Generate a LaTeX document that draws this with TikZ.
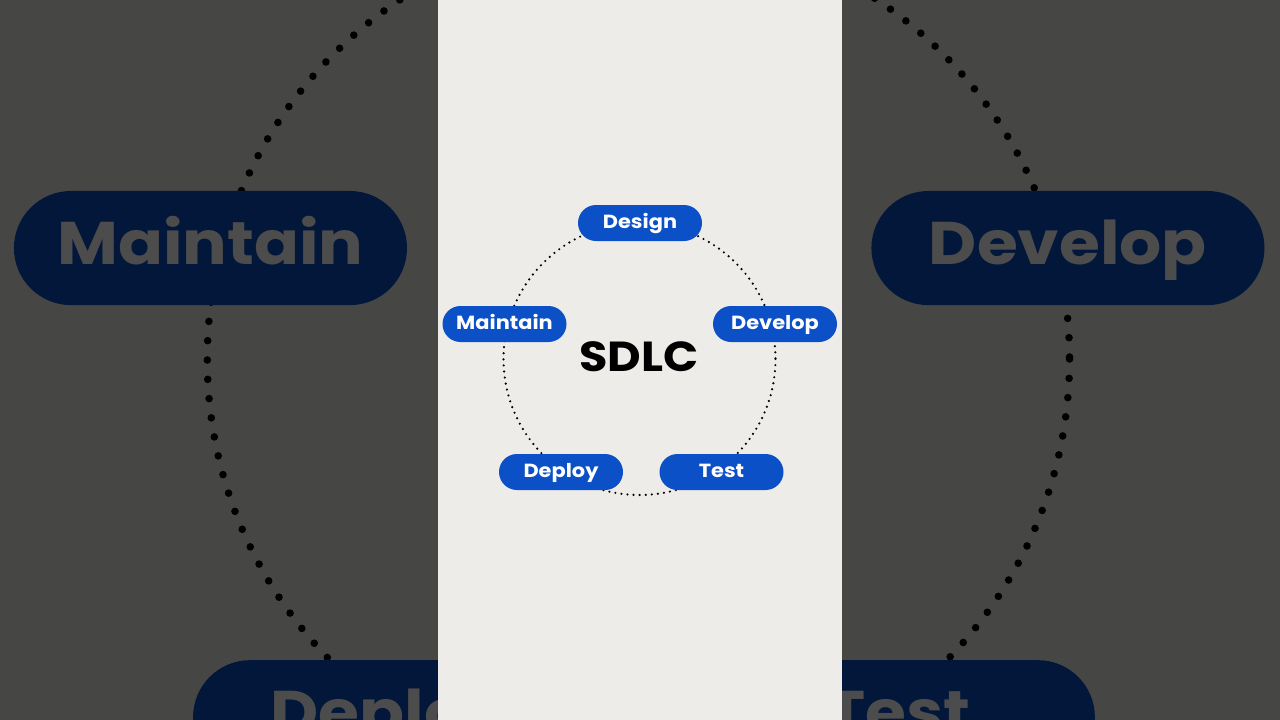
\documentclass[tikz,border=0pt]{standalone}
\usepackage{fontspec}
\setmainfont{Poppins}[FakeStretch=1.1]
\usetikzlibrary{shapes.misc}
\definecolor{paper}{HTML}{EEECE8}
\definecolor{pillblue}{HTML}{0B50C6}
\tikzset{
  pill/.style={rounded rectangle, fill=pillblue, text=white, inner sep=0pt,
    minimum width=\pw pt, minimum height=\ph pt, text height=\tht pt, text depth=\tdp pt,
    font=\fontsize{\fs}{\fs}\selectfont\bfseries},
  ring/.style={line width=\dw pt, dash pattern=on 0pt off \dg pt, line cap=round, black},
  title/.style={inner sep=0pt, font=\fontsize{\ts}{\ts}\selectfont\bfseries, text=black}
}
% #1 scale, #2 name suffix, #3 extra content (drawn in the same scope)
\newcommand\sdlcscene[3]{%
  \begin{scope}[shift={(640,359)}, x=#1pt, y=-#1pt]
    \pgfmathsetmacro\pw{124*#1}
    \pgfmathsetmacro\ph{36*#1}
    \pgfmathsetmacro\fs{19*#1}
    \pgfmathsetmacro\tht{0.62*19*#1}
    \pgfmathsetmacro\tdp{0.08*19*#1}
    \pgfmathsetmacro\ts{42*#1}
    \pgfmathsetmacro\dw{2.4*#1}
    \pgfmathsetmacro\dg{6.1*#1}
    \draw[ring] (-0.5,0) circle[radius=136];
    \node[pill] (develop#2) at (135,-35) {Develop};
    \node[pill] (maintain#2) at (-135.5,-35) {Maintain};
    \node[pill] (deploy#2) at (-79,113) {Deploy};
    \node[pill] (test#2) at (81.5,113) {Test};
    #3
  \end{scope}}
\begin{document}
\begin{tikzpicture}[x=1pt, y=-1pt]
  \useasboundingbox (0,0) rectangle (1280,720);
  \fill[paper] (0,0) rectangle (1280,720);
  \begin{scope}
    \clip (0,0) rectangle (438,720) (842,0) rectangle (1280,720);
    \sdlcscene{3.17}{big}{}
  \end{scope}
  \fill[black, opacity=0.7] (0,0) rectangle (1280,720);
  \fill[paper] (438,0) rectangle (842,720);
  \sdlcscene{1}{}{%
    \node[pill] (design) at (0,-136) {Design};
    \node[title] (sdlc) at (-1,-2) {SDLC};}
\end{tikzpicture}
\end{document}
